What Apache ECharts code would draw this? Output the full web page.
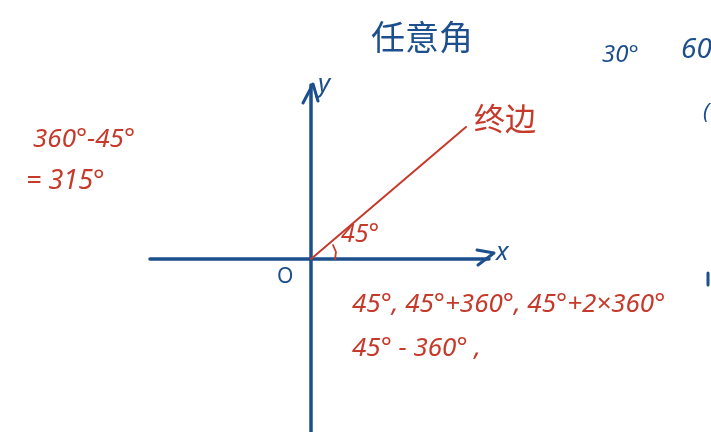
<!DOCTYPE html>
<html><head><meta charset="utf-8">
<script src="https://cdn.jsdelivr.net/npm/echarts@6/dist/echarts.min.js"></script>
<style>html,body{margin:0;padding:0;background:#fff}#c{width:711px;height:432px}</style>
</head><body><div id="c"></div>
<script>
// Sketch geometry in math units (origin = O of the drawn axes)
var xAxisLine = [[-161, 0], [178, 0]];
var xArrow = [[166, 9], [183, 6], [167, -6]];
var yAxisLine = [[0, -173], [0, 174]];
var yArrow = [[-8, 156], [2, 175], [7, 158]];
var terminalSide = [[0, 0], [155, 132]];
var angleArc = [[24, 0], [25, 7], [22, 14]];
var edgeMark = [[397, -14], [397, -26]];

var blue = '#1d4f8d', red = '#c63a2b';
var chart = echarts.init(document.getElementById('c'));
function seg(data, color, w) {
  return { type: 'line', data: data, symbol: 'none', silent: true, animation: false,
    lineStyle: { color: color, width: w, cap: 'round', join: 'round' } };
}
var hand = '"Noto Sans", "DejaVu Sans", sans-serif';
function txt(t, x, y, size, color, extra) {
  var s = { text: t, fill: color, font: 'italic ' + size + 'px ' + hand };
  if (extra) for (var k in extra) s[k] = extra[k];
  return { type: 'text', left: x, top: y, style: s, silent: true };
}
chart.setOption({
  backgroundColor: '#ffffff',
  animation: false,
  grid: { left: 0, right: 0, top: 0, bottom: 0 },
  xAxis: { type: 'value', min: -311, max: 400, show: false },
  yAxis: { type: 'value', min: -173, max: 259, show: false },
  series: [
    seg(xAxisLine, blue, 3.5),
    seg(xArrow, blue, 3),
    seg(yAxisLine, blue, 3.5),
    seg(yArrow, blue, 3),
    seg(terminalSide, red, 2),
    seg(angleArc, red, 1.8),
    seg(edgeMark, blue, 3)
  ],
  graphic: [
    { type: 'text', left: 371, top: 20, silent: true,
      style: { text: '任意角', fill: blue, font: '34px "Noto Sans CJK SC"' } },
    txt('30°', 602, 43, 24, blue),
    txt('60°', 681, 36, 28, blue),
    txt('(', 703, 102, 22, blue),
    txt('y', 318, 72, 26, blue),
    txt('x', 496, 240, 26, blue),
    txt('O', 277, 267, 21, blue, { font: '21px ' + hand }),
    { type: 'text', left: 474, top: 103, silent: true,
      style: { text: '终边', fill: red, font: '31px "Noto Sans CJK SC"' } },
    txt('45°', 341, 222, 25, red),
    txt('360°−45°', 33, 127, 26, red),
    txt('= 315°', 26, 168, 27, red),
    txt('45°, 45°+360°, 45°+2×360°', 352, 292, 26, red),
    txt('45° − 360° ,', 352, 336, 26, red)
  ]
});
</script></body></html>
